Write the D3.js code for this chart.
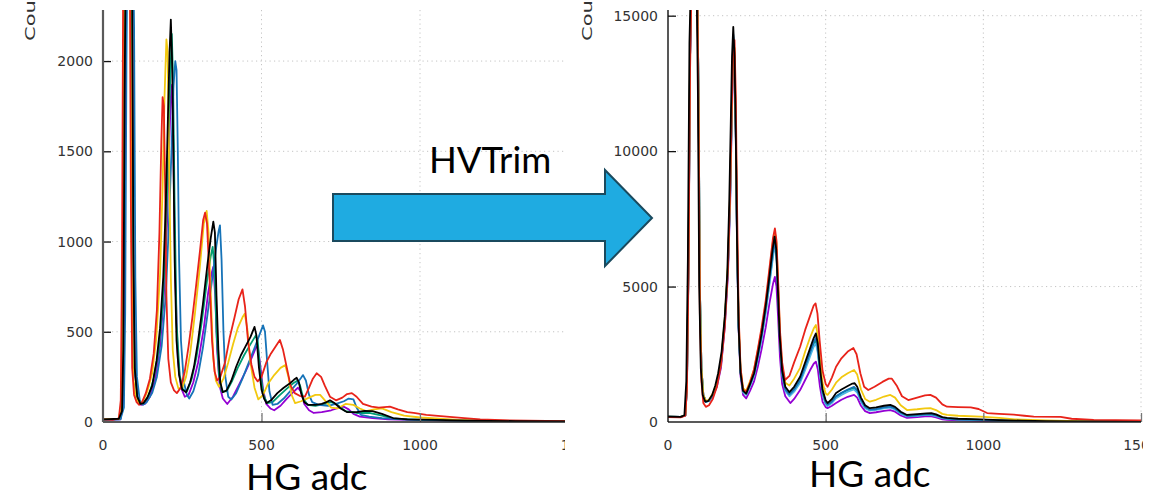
<!DOCTYPE html>
<html>
<head>
<meta charset="utf-8">
<script src="https://cdn.jsdelivr.net/npm/d3@7"></script>
<style>
  body { margin: 0; background: #fff; }
  svg { display: block; }
  .tick-label { font-family: "DejaVu Sans", sans-serif; font-size: 14px; fill: #333; }
  .big-label { font-family: Lato, "Open Sans", sans-serif; fill: #000; }
</style>
</head>
<body>
<div id="chart"></div>
<script>

// ---- data: [adc, counts] ----
// tick labels
const beforeYTicks = [500, 1000, 1500, 2000];
const afterYTicks = [5000, 10000, 15000];
const xTicks = [0, 500, 1000, 1500];

// before HV trim
const beforePurple = [[0,12],[55,15],[64,100],[68,900],[72,2400],[84,2900],[92,2200],[96,800],[102,250],[110,130],[120,95],[132,100],[148,140],[165,240],[180,420],[192,700],[202,1100],[208,1500],[214,1800],[218,1870],[222,1500],[228,800],[236,350],[246,190],[258,140],[270,150],[285,220],[300,330],[318,520],[332,720],[342,820],[348,860],[354,700],[360,400],[368,200],[378,130],[392,100],[410,140],[430,210],[450,280],[470,360],[482,410],[488,420],[495,330],[505,180],[515,100],[528,75],[540,65],[560,90],[580,130],[600,165],[615,190],[624,170],[635,100],[650,65],[665,50],[690,55],[720,65],[745,80],[760,85],[775,70],[790,45],[810,30],[850,22],[900,15],[1000,10],[1150,6],[1460,3]];
const beforeGreen = [[0,14],[55,16],[62,150],[66,1200],[70,2600],[82,3000],[90,2600],[95,1000],[100,300],[108,140],[118,100],[130,110],[145,150],[160,240],[175,390],[188,640],[198,1000],[206,1500],[212,1900],[217,2150],[221,1900],[226,1200],[232,550],[242,260],[252,180],[265,170],[280,240],[295,360],[312,560],[328,780],[340,920],[346,970],[352,850],[358,500],[366,260],[375,170],[390,170],[408,230],[425,300],[445,370],[465,430],[482,480],[488,450],[496,280],[506,150],[518,105],[535,110],[555,145],[580,185],[600,215],[614,230],[622,200],[632,130],[645,95],[670,90],[700,100],[720,110],[740,95],[765,60],[800,50],[840,50],[880,35],[920,18],[1000,12],[1150,7],[1460,3]];
const beforeBlue = [[0,12],[55,15],[66,80],[70,600],[74,2000],[78,2800],[92,3000],[98,2200],[102,800],[107,250],[116,120],[126,95],[138,110],[155,160],[170,250],[185,420],[198,700],[208,1100],[216,1500],[222,1850],[228,2000],[232,1950],[236,1500],[240,900],[246,450],[255,220],[265,150],[272,130],[285,170],[300,260],[315,410],[330,600],[345,800],[358,980],[365,1060],[369,1090],[374,900],[380,500],[386,250],[395,140],[405,125],[420,160],[440,240],[460,330],[480,420],[495,490],[505,535],[511,500],[518,330],[525,170],[535,95],[550,100],[570,130],[590,170],[610,210],[625,245],[631,260],[640,230],[650,150],[660,110],[680,95],[710,90],[735,100],[760,115],[775,130],[790,125],[800,80],[813,40],[840,30],[880,22],[950,15],[1050,10],[1200,6],[1460,3]];
const beforeYellow = [[0,15],[50,18],[58,100],[62,800],[66,2500],[76,3000],[86,2600],[90,1000],[95,250],[104,130],[114,105],[125,110],[140,170],[155,270],[168,460],[180,820],[188,1300],[194,1800],[200,2120],[204,2050],[208,1500],[214,800],[220,400],[228,250],[238,185],[250,190],[262,250],[275,380],[290,600],[305,850],[318,1100],[327,1170],[333,1050],[340,700],[348,350],[356,230],[366,195],[380,240],[395,330],[410,430],[425,520],[440,580],[447,600],[455,520],[465,330],[478,190],[490,125],[505,150],[520,210],[540,260],[560,300],[575,315],[585,250],[595,150],[606,105],[625,115],[650,135],[670,150],[685,150],[700,120],[720,80],[740,75],[765,100],[790,95],[810,75],[830,60],[855,70],[880,75],[910,55],[950,35],[1000,25],[1050,20],[1120,12],[1200,8],[1300,5],[1460,3]];
const beforeRed = [[0,15],[30,12],[50,20],[56,120],[60,900],[64,2600],[72,3200],[84,2800],[88,1200],[92,300],[98,150],[106,110],[114,95],[122,105],[135,160],[148,240],[160,380],[170,620],[178,1050],[184,1550],[188,1800],[192,1750],[196,1300],[200,700],[206,350],[214,220],[224,175],[233,160],[245,190],[258,280],[270,420],[282,580],[294,760],[306,950],[316,1120],[322,1160],[328,1100],[336,800],[344,450],[352,280],[360,230],[370,250],[385,330],[400,470],[415,580],[428,680],[440,735],[448,640],[458,440],[468,320],[478,250],[488,225],[500,250],[515,330],[530,380],[545,420],[558,455],[568,400],[580,300],[592,200],[605,160],[620,145],[637,140],[650,190],[662,240],[674,270],[688,250],[700,200],[716,140],[735,120],[755,135],[770,155],[785,160],[800,140],[820,100],[847,85],[870,80],[905,85],[930,70],[960,55],[980,50],[1020,40],[1084,30],[1140,22],[1190,15],[1260,10],[1340,7],[1460,5]];
const beforeBlack = [[0,15],[50,18],[60,60],[64,400],[68,1800],[72,2600],[84,3000],[92,2400],[96,900],[100,300],[108,140],[118,100],[128,105],[140,135],[155,200],[169,340],[180,520],[190,800],[198,1200],[205,1700],[210,2050],[214,2230],[218,2000],[222,1500],[226,900],[232,450],[240,260],[250,180],[262,165],[275,220],[287,306],[300,450],[315,650],[330,880],[340,1020],[348,1110],[353,1050],[358,700],[364,400],[370,220],[378,165],[390,175],[405,230],[420,306],[435,370],[450,420],[465,470],[478,527],[484,480],[492,300],[500,180],[508,130],[516,105],[530,120],[550,160],[570,190],[590,215],[603,235],[611,245],[618,220],[625,160],[635,110],[647,95],[670,95],[690,100],[705,110],[716,120],[730,105],[750,75],[769,55],[800,55],[825,62],[850,60],[880,45],[915,22],[960,15],[1050,12],[1150,8],[1300,5],[1460,3]];

// after HV trim
const afterPurple = [[0,200],[40,190],[55,240],[60,1300],[65,5800],[70,13500],[76,17000],[92,17000],[97,12000],[101,5000],[106,2000],[112,1000],[120,760],[130,780],[142,950],[155,1300],[168,2000],[180,3500],[190,5400],[197,8000],[202,11000],[207,13500],[211,13300],[215,10500],[219,6500],[224,3400],[230,1700],[238,1000],[248,870],[260,1150],[273,1500],[285,2050],[297,2700],[310,3500],[322,4400],[333,5100],[339,5360],[344,5000],[349,3900],[355,2400],[362,1400],[372,950],[388,700],[400,850],[419,1180],[435,1550],[450,1900],[462,2150],[469,2230],[475,1950],[482,1300],[490,750],[500,550],[506,510],[520,600],[533,700],[550,820],[570,930],[590,1000],[600,900],[612,600],[625,400],[640,330],[660,360],[685,410],[705,440],[720,380],[738,240],[758,150],[790,180],[815,210],[832,220],[850,170],[870,100],[885,80],[920,60],[990,40],[1050,30],[1150,20],[1300,10],[1505,5]];
const afterGreen = [[0,200],[40,190],[55,240],[60,1300],[65,5800],[70,13500],[76,17000],[92,17000],[97,12000],[101,5000],[106,2000],[112,1000],[120,750],[130,790],[142,1000],[155,1400],[168,2150],[180,3700],[190,5700],[197,8300],[202,11300],[207,14100],[211,13500],[215,10700],[219,6700],[224,3500],[230,1850],[238,1120],[248,1020],[260,1350],[273,1750],[285,2400],[297,3150],[310,4100],[322,5200],[333,6200],[339,6700],[344,6300],[349,4950],[355,3150],[362,1800],[372,1200],[385,1000],[400,1180],[419,1520],[435,2000],[450,2500],[462,2900],[469,3000],[475,2650],[482,1850],[490,1080],[500,700],[506,620],[520,740],[533,930],[550,1060],[570,1180],[590,1260],[600,1150],[612,800],[625,540],[640,440],[660,470],[685,530],[705,560],[720,490],[738,330],[758,220],[790,245],[815,275],[832,285],[850,235],[870,150],[885,125],[920,95],[990,75],[1050,52],[1120,38],[1200,24],[1300,14],[1505,6]];
const afterCyan = [[0,200],[40,190],[55,240],[60,1300],[65,5800],[70,13500],[76,17000],[92,17000],[97,12000],[101,5000],[106,2000],[112,1000],[120,745],[130,780],[142,990],[155,1380],[168,2120],[180,3650],[190,5650],[197,8300],[202,11300],[207,14200],[211,13500],[215,10700],[219,6700],[224,3500],[230,1850],[238,1100],[248,1000],[260,1320],[273,1700],[285,2350],[297,3080],[310,4050],[322,5100],[333,6100],[339,6500],[344,6100],[349,4850],[355,3050],[362,1750],[372,1150],[385,950],[400,1120],[419,1450],[435,1920],[450,2400],[462,2780],[469,2900],[475,2550],[482,1780],[490,1020],[500,660],[506,590],[520,700],[533,880],[550,1000],[570,1120],[590,1200],[600,1090],[612,760],[625,510],[640,420],[660,445],[685,500],[705,530],[720,465],[738,310],[758,205],[790,230],[815,260],[832,265],[850,220],[870,140],[885,115],[920,90],[990,70],[1050,50],[1120,36],[1200,22],[1300,13],[1505,6]];
const afterBlue = [[0,200],[40,190],[55,240],[60,1300],[65,5800],[70,13500],[76,17000],[92,17000],[97,12000],[101,5000],[106,2000],[112,1000],[120,740],[130,780],[142,1000],[155,1400],[168,2150],[180,3700],[190,5700],[197,8400],[202,11500],[207,14300],[211,13600],[215,10800],[219,6800],[224,3600],[230,1900],[238,1150],[248,1050],[260,1380],[273,1780],[285,2450],[297,3200],[310,4200],[322,5300],[333,6300],[339,6600],[344,6200],[349,4900],[355,3100],[362,1800],[372,1200],[385,1020],[400,1200],[419,1550],[435,2050],[450,2550],[462,2950],[469,3100],[475,2750],[482,1900],[490,1100],[500,720],[506,640],[520,760],[533,950],[550,1080],[570,1200],[590,1300],[600,1180],[612,820],[625,560],[640,460],[660,480],[685,540],[705,570],[720,500],[738,340],[758,230],[790,250],[815,280],[832,290],[850,240],[870,160],[885,130],[920,100],[990,80],[1050,55],[1120,40],[1200,25],[1300,15],[1400,10],[1505,6]];
const afterYellow = [[0,200],[40,190],[55,250],[60,1400],[65,6000],[70,14000],[76,17000],[92,17000],[97,12000],[101,5000],[106,2000],[112,1000],[120,780],[130,820],[142,1050],[155,1450],[168,2200],[180,3800],[190,5800],[197,8500],[202,11500],[207,14000],[211,13800],[215,11000],[219,7000],[224,3800],[230,2000],[238,1250],[248,1150],[260,1500],[273,1950],[285,2650],[297,3400],[310,4400],[322,5600],[333,6700],[339,7000],[344,6600],[349,5200],[355,3300],[362,2050],[372,1450],[385,1350],[400,1600],[419,2000],[435,2600],[450,3100],[462,3450],[469,3580],[475,3200],[482,2300],[490,1450],[500,1050],[506,1000],[520,1200],[533,1450],[550,1650],[570,1800],[590,1920],[600,1750],[612,1200],[625,850],[640,750],[660,820],[685,940],[705,1000],[720,900],[738,620],[758,440],[790,470],[815,500],[832,510],[850,440],[870,300],[885,260],[920,230],[990,200],[1050,150],[1100,100],[1200,60],[1300,30],[1400,18],[1505,12]];
const afterRed = [[0,180],[40,170],[55,230],[60,1200],[65,5500],[70,13000],[76,17000],[92,17000],[97,11000],[101,4000],[106,1500],[112,700],[120,560],[130,620],[142,850],[155,1300],[168,2100],[180,3500],[190,5600],[197,8500],[202,11500],[207,13800],[211,14100],[215,12000],[219,8000],[224,4000],[230,2000],[238,1200],[248,1100],[260,1450],[273,1950],[285,2700],[297,3500],[310,4500],[322,5700],[333,6800],[339,7150],[344,6700],[349,5300],[355,3400],[362,2200],[371,1550],[385,1700],[400,2200],[419,2780],[435,3400],[450,3900],[462,4300],[468,4380],[474,4000],[481,3000],[490,1900],[500,1400],[506,1300],[520,1650],[533,2040],[550,2350],[570,2600],[588,2730],[598,2500],[610,1800],[622,1300],[635,1180],[655,1300],[680,1480],[700,1600],[710,1600],[725,1350],[742,950],[762,810],[790,900],[815,980],[832,1000],[850,900],[870,650],[885,565],[920,550],[960,540],[985,480],[1012,330],[1050,300],[1097,270],[1130,230],[1160,200],[1245,190],[1280,120],[1350,80],[1420,70],[1505,60]];
const afterBlack = [[0,200],[40,190],[52,250],[58,1500],[63,6000],[68,14000],[74,17000],[90,17000],[95,12000],[99,5000],[104,2000],[110,1000],[118,750],[128,780],[140,1000],[150,1350],[159,1800],[170,2600],[180,3890],[188,5500],[194,8000],[199,11000],[203,13500],[207,14590],[211,13500],[215,10500],[219,6500],[224,3500],[230,1800],[238,1150],[248,1050],[260,1400],[273,1800],[285,2500],[297,3270],[310,4300],[322,5400],[332,6400],[338,6840],[343,6400],[348,5000],[354,3200],[362,1900],[372,1300],[385,1100],[400,1300],[419,1670],[435,2200],[450,2700],[462,3100],[469,3270],[475,2900],[482,2000],[490,1200],[500,800],[506,700],[520,850],[533,1070],[550,1200],[570,1330],[585,1420],[592,1430],[600,1300],[612,900],[625,620],[640,510],[660,540],[685,600],[705,630],[720,560],[738,380],[758,260],[790,290],[820,320],[835,330],[850,280],[870,180],[885,150],[920,120],[990,100],[1050,70],[1120,50],[1200,30],[1300,20],[1400,12],[1505,8]];

const colors = {
  purple: "#9400d3", green: "#009e73", cyan: "#4cb6e4", blue: "#1673b8",
  yellow: "#f2c80f", red: "#e8231a", black: "#000000"
};

const width = 1160, height = 500;

const svg = d3.select("#chart").append("svg")
  .attr("width", width)
  .attr("height", height);

function drawHisto(cfg) {
  let defs = svg.append("defs");
  defs.append("clipPath").attr("id", cfg.id + "-crop")
    .append("rect").attr("x", cfg.cropX0).attr("y", 0)
    .attr("width", cfg.cropX1 - cfg.cropX0).attr("height", height);
  defs.append("clipPath").attr("id", cfg.id + "-plot")
    .append("rect").attr("x", cfg.left).attr("y", cfg.top)
    .attr("width", cfg.right - cfg.left).attr("height", cfg.bottom - cfg.top);

  let g = svg.append("g").attr("clip-path", "url(#" + cfg.id + "-crop)");

  let x = d3.scaleLinear().domain([0, 1500]).range([cfg.left, cfg.right]);
  let y = d3.scaleLinear().domain([0, cfg.yMax]).range([cfg.bottom, cfg.top]);

  // dotted grid
  g.append("g").selectAll("line.hg").data(cfg.yTicks).join("line")
    .attr("x1", cfg.left).attr("x2", cfg.right)
    .attr("y1", d => y(d)).attr("y2", d => y(d))
    .attr("stroke", "#c4c4c4").attr("stroke-dasharray", "1.2,3.3");
  g.append("g").selectAll("line.vg").data(xTicks.filter(d => d > 0)).join("line")
    .attr("x1", d => x(d)).attr("x2", d => x(d))
    .attr("y1", cfg.top).attr("y2", cfg.bottom)
    .attr("stroke", "#c4c4c4").attr("stroke-dasharray", "1.2,3.3");

  // histogram traces
  let line = d3.line().x(d => x(d[0])).y(d => y(d[1]));
  g.append("g").attr("clip-path", "url(#" + cfg.id + "-plot)")
    .selectAll("path").data(cfg.series).join("path")
    .attr("d", d => line(d.values))
    .attr("fill", "none")
    .attr("stroke", d => d.color)
    .attr("stroke-width", 1.8)
    .attr("stroke-linejoin", "round");

  // axes (ticks point inward, like gnuplot)
  let yAxis = d3.axisRight(y).tickValues(cfg.yTicks).tickSize(8).tickFormat("");
  g.append("g").attr("transform", "translate(" + cfg.left + ",0)").call(yAxis)
    .call(a => a.select(".domain").remove())
    .selectAll("line").attr("stroke", "#111").attr("stroke-width", 1.3);
  let xAxis = d3.axisTop(x).tickValues(xTicks.filter(d => d > 0)).tickSize(9).tickFormat("");
  g.append("g").attr("transform", "translate(0," + cfg.bottom + ")").call(xAxis)
    .call(a => a.select(".domain").remove())
    .selectAll("line").attr("stroke", "#777").attr("stroke-width", 1.3);

  g.append("line").attr("x1", cfg.left).attr("x2", cfg.right)
    .attr("y1", cfg.bottom).attr("y2", cfg.bottom)
    .attr("stroke", "#222").attr("stroke-width", 1.5);
  g.append("line").attr("x1", cfg.left).attr("x2", cfg.left)
    .attr("y1", cfg.top).attr("y2", cfg.bottom)
    .attr("stroke", cfg.yAxisColor).attr("stroke-width", cfg.yAxisWidth);

  // tick labels
  g.append("g").selectAll("text").data(cfg.yTicks.concat([0])).join("text")
    .attr("class", "tick-label")
    .attr("x", cfg.left - 10).attr("y", d => y(d) + 5)
    .attr("text-anchor", "end")
    .text(d => d);
  g.append("g").selectAll("text").data(xTicks).join("text")
    .attr("class", "tick-label")
    .attr("x", d => x(d)).attr("y", cfg.bottom + 28)
    .attr("text-anchor", "middle")
    .text(d => d);

  // y title, stretched like the pasted picture and cut off at the top
  g.append("text").attr("class", "tick-label")
    .attr("transform", "translate(" + cfg.titleX + ",41) rotate(-90) scale(1.5,1)")
    .attr("text-anchor", "start")
    .text("Counts");

  // big x title
  svg.append("text").attr("class", "big-label")
    .attr("x", cfg.xTitleX).attr("y", cfg.xTitleY)
    .style("font-size", "37px")
    .text("HG adc");
}

drawHisto({
  id: "before", cropX0: 0, cropX1: 565,
  left: 103, right: 578.5, top: 10, bottom: 422, yMax: 2283,
  yTicks: beforeYTicks, yAxisColor: "#5a5a5a", yAxisWidth: 2.2,
  titleX: 35, xTitleX: 246, xTitleY: 490,
  series: [
    {values: beforePurple, color: colors.purple},
    {values: beforeGreen, color: colors.green},
    {values: beforeBlue, color: colors.blue},
    {values: beforeYellow, color: colors.yellow},
    {values: beforeRed, color: colors.red},
    {values: beforeBlack, color: colors.black}
  ]
});

drawHisto({
  id: "after", cropX0: 572, cropX1: 1143,
  left: 668, right: 1141, top: 10, bottom: 422, yMax: 15210,
  yTicks: afterYTicks, yAxisColor: "#111", yAxisWidth: 1.4,
  titleX: 592, xTitleX: 809, xTitleY: 487,
  series: [
    {values: afterPurple, color: colors.purple},
    {values: afterGreen, color: colors.green},
    {values: afterCyan, color: colors.cyan},
    {values: afterBlue, color: colors.blue},
    {values: afterYellow, color: colors.yellow},
    {values: afterRed, color: colors.red},
    {values: afterBlack, color: colors.black}
  ]
});

// block arrow between the two panels
const arrowPts = [[333,194],[605,194],[605,170],[652,218],[605,266],[605,241],[333,241]];
svg.append("path")
  .attr("d", d3.line()(arrowPts) + "Z")
  .attr("fill", "#1fabe1")
  .attr("stroke", "#1a4a5e")
  .attr("stroke-width", 2)
  .attr("stroke-linejoin", "miter");

svg.append("text").attr("class", "big-label")
  .attr("x", 429).attr("y", 173)
  .style("font-size", "36.5px")
  .text("HVTrim");

</script>
</body>
</html>
